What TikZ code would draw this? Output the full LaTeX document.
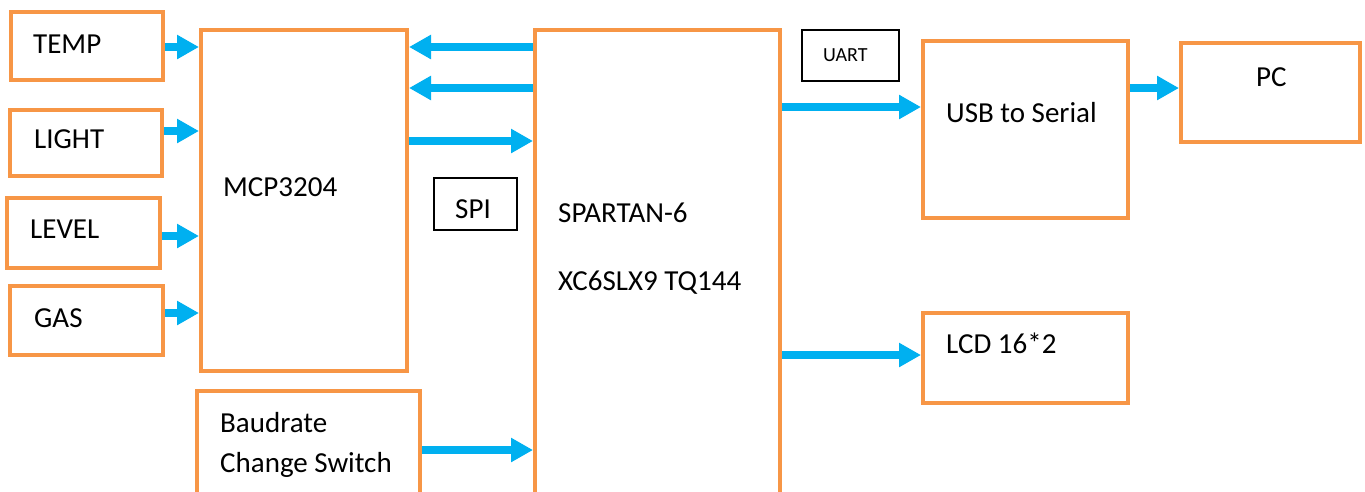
\documentclass[tikz,border=0pt]{standalone}
\usepackage{fontspec}
\setmainfont{Carlito}
\usetikzlibrary{arrows.meta}
\definecolor{boxorange}{HTML}{F79646}
\definecolor{arrowblue}{HTML}{00B0F0}
\tikzset{
  obox/.style={draw=boxorange, line width=4pt, inner sep=0pt, fill=white},
  kbox/.style={draw=black, line width=1.5pt, inner sep=0pt},
  txt/.style={inner sep=0pt, anchor=base west, font=\fontsize{29}{35}\selectfont},
  smalltxt/.style={inner sep=0pt, anchor=base west, font=\fontsize{20}{24}\selectfont},
  conn/.style={draw=arrowblue, line width=8pt, -{Triangle[width=23pt,length=22pt]}}
}
\begin{document}
\begin{tikzpicture}[x=1pt,y=-1pt]
\clip (0,0) rectangle (1365,491);
\fill[white] (0,0) rectangle (1365,491);
% boxes
\node[obox, minimum width=152pt, minimum height=68pt] (temp) at (87,46) {};
\node[obox, minimum width=152pt, minimum height=66pt] (light) at (86,143) {};
\node[obox, minimum width=153pt, minimum height=70pt] (level) at (83.5,233) {};
\node[obox, minimum width=153pt, minimum height=69pt] (gas) at (86.5,320.5) {};
\node[obox, minimum width=206pt, minimum height=341pt] (mcp) at (304,200.5) {};
\node[obox, minimum width=223pt, minimum height=129pt] (baud) at (308.5,455.5) {};
\node[obox, minimum width=245pt, minimum height=490pt] (fpga) at (657.5,275) {};
\node[kbox, minimum width=83pt, minimum height=52pt] (spi) at (475.5,204) {};
\node[kbox, minimum width=97pt, minimum height=51pt] (uart) at (850.5,55.5) {};
\node[obox, minimum width=205pt, minimum height=177pt] (usb) at (1025.5,129.5) {};
\node[obox, minimum width=179pt, minimum height=99pt] (pc) at (1270.5,92.5) {};
\node[obox, minimum width=205pt, minimum height=90pt] (lcd) at (1025.5,358) {};
% texts
\node[txt] (ttemp) at (33,53) {TEMP};
\node[txt] (tlight) at (34,148) {LIGHT};
\node[txt] (tlevel) at (30,238) {LEVEL};
\node[txt] (tgas) at (34,327) {GAS};
\node[txt] (tmcp) at (223,196) {MCP3204};
\node[txt] (tspi) at (455,218) {SPI};
\node[txt] (tfpga1) at (558,222) {SPARTAN-6};
\node[txt] (tfpga2) at (558,290) {XC6SLX9 TQ144};
\node[smalltxt] (tuart) at (823,61) {UART};
\node[txt] (tusb) at (946,122) {USB to Serial};
\node[txt] (tpc) at (1256,86) {PC};
\node[txt] (tlcd) at (946,353) {LCD 16*2};
\node[txt] (tbaud1) at (220,432) {Baudrate};
\node[txt] (tbaud2) at (220,472) {Change Switch};
% connectors
\draw[conn] (temp.east |- 0,47) -- (mcp.west |- 0,47);
\draw[conn] (light.east |- 0,131) -- (mcp.west |- 0,131);
\draw[conn] (level.east |- 0,236) -- (mcp.west |- 0,236);
\draw[conn] (gas.east |- 0,313) -- (mcp.west |- 0,313);
\draw[conn] (fpga.west |- 0,47) -- (mcp.east |- 0,47);
\draw[conn] (fpga.west |- 0,88) -- (mcp.east |- 0,88);
\draw[conn] (mcp.east |- 0,141) -- (fpga.west |- 0,141);
\draw[conn] (baud.east |- 0,450) -- (fpga.west |- 0,450);
\draw[conn] (fpga.east |- 0,107) -- (usb.west |- 0,107);
\draw[conn] (usb.east |- 0,88) -- (pc.west |- 0,88);
\draw[conn] (fpga.east |- 0,355) -- (lcd.west |- 0,355);
\end{tikzpicture}
\end{document}
